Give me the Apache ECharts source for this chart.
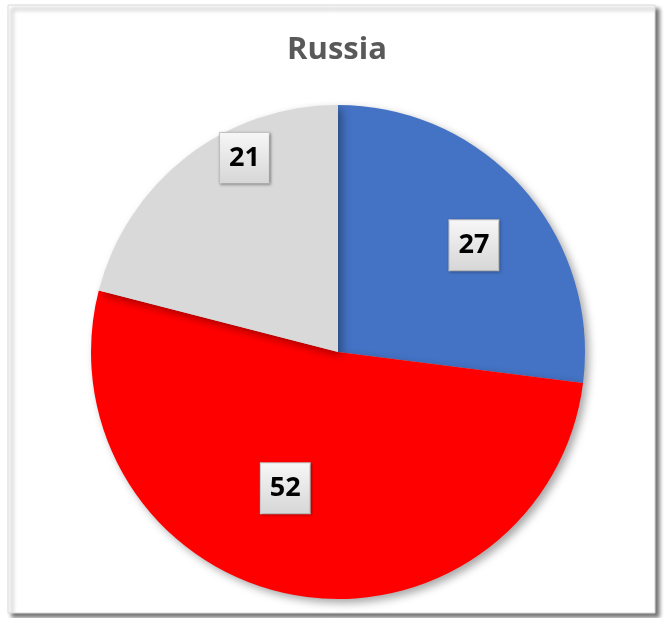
<!DOCTYPE html>
<html>
<head>
<meta charset="utf-8">
<script src="https://cdn.jsdelivr.net/npm/echarts@6/dist/echarts.min.js"></script>
<style>
html,body{margin:0;padding:0;background:#fff;}
#c{width:665px;height:618px;}
</style>
</head>
<body>
<div id="c"></div>
<script>
const title = 'Russia';
const categories = ['A', 'B', 'C'];
const values = [27, 52, 21];
const colors = ['#4472C4', '#FF0000', '#D9D9D9'];
const labelOffsets = [[41, -23], [-29, 12], [-16, -94]];

const chart = echarts.init(document.getElementById('c'));
const labelBg = new echarts.graphic.LinearGradient(0, 0, 0, 1, [
  {offset: 0, color: '#f7f7f7'},
  {offset: 1, color: '#d6d6d6'}
]);
chart.setOption({
  animation: false,
  graphic: [{
    type: 'rect',
    shape: {x: 8, y: 5, width: 647, height: 608},
    style: {fill: '#fff', stroke: '#d9d9d9', lineWidth: 1,
      shadowBlur: 4, shadowOffsetX: 4, shadowOffsetY: 4, shadowColor: 'rgba(0,0,0,0.55)'},
    z: -10
  }],
  title: {
    text: title, left: 332, top: 30, textAlign: 'center',
    textStyle: {fontFamily: 'Open Sans', fontWeight: 'bold', fontSize: 31, color: '#595959'}
  },
  series: [{
    type: 'pie',
    center: [338, 352],
    radius: 247,
    startAngle: 90,
    clockwise: true,
    data: categories.map((c, i) => ({
      name: c, value: values[i],
      itemStyle: {color: colors[i]},
      label: {offset: labelOffsets[i]}
    })),
    itemStyle: {shadowBlur: 8, shadowOffsetX: 4, shadowOffsetY: 4, shadowColor: 'rgba(0,0,0,0.35)'},
    label: {
      show: true, position: 'inside',
      formatter: '{c}',
      fontFamily: 'Open Sans', fontWeight: 'bold', fontSize: 27, color: '#000',
      backgroundColor: labelBg,
      borderColor: '#c8c8c8', borderWidth: 1,
      padding: [12, 9, 11, 9],
      shadowBlur: 3, shadowOffsetX: 1, shadowOffsetY: 1, shadowColor: 'rgba(0,0,0,0.3)'
    },
    labelLine: {show: false}
  }]
});
</script>
</body>
</html>
